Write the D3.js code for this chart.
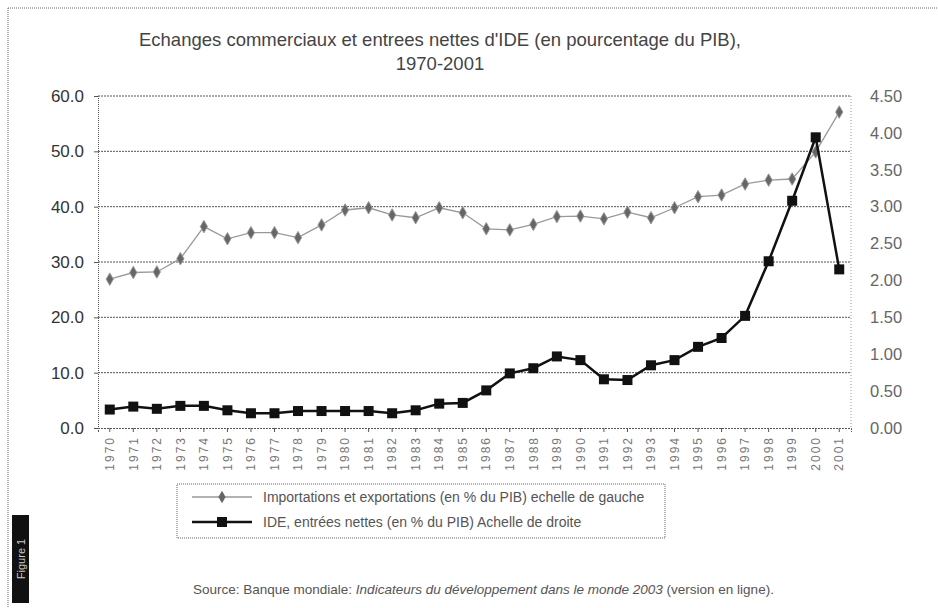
<!DOCTYPE html>
<html>
<head>
<meta charset="utf-8">
<script src="https://cdn.jsdelivr.net/npm/d3@7"></script>
<style>
  body { margin: 0; background: #fff; }
  svg { display: block; font-family: "Liberation Sans", Arial, sans-serif; }
</style>
</head>
<body>
<div class="chart-container"></div>
<script>
const width = 938;
const height = 608;

// data
const years = d3.range(1970, 2002).map(String);
const tradeValues = [26.9, 28.1, 28.2, 30.6, 36.4, 34.2, 35.3, 35.3, 34.4, 36.7, 39.4, 39.8,
    38.5, 38.0, 39.8, 38.9, 36.0, 35.8, 36.8, 38.2, 38.3, 37.8, 39.0, 38.0,
    39.8, 41.8, 42.1, 44.1, 44.8, 45.0, 49.9, 57.1];
const fdiValues = [0.25, 0.29, 0.26, 0.30, 0.30, 0.24, 0.20, 0.20, 0.23, 0.23, 0.23, 0.23,
    0.20, 0.24, 0.33, 0.34, 0.51, 0.74, 0.81, 0.97, 0.92, 0.66, 0.65, 0.85,
    0.92, 1.10, 1.22, 1.52, 2.26, 3.08, 3.94, 2.15];
const leftTicks = [0, 10, 20, 30, 40, 50, 60];
const rightTicks = [0, 0.5, 1, 1.5, 2, 2.5, 3, 3.5, 4, 4.5];

const titleLines = ["Echanges commerciaux et entrees nettes d'IDE (en pourcentage du PIB),", "1970-2001"];
const legendLabels = ["Importations et exportations (en % du PIB) echelle de gauche",
    "IDE, entrées nettes (en % du PIB) Achelle de droite"];

const margin = {top: 96, right: 87, bottom: 180, left: 98};

const svg = d3.select('.chart-container').append('svg')
    .attr('width', width)
    .attr('height', height);

// page frame (dotted, scanned look)
svg.append('line')
    .attr('x1', 8).attr('y1', 8).attr('x2', width).attr('y2', 8)
    .attr('stroke', '#666').attr('stroke-dasharray', '1,1');
svg.append('line')
    .attr('x1', 8).attr('y1', 8).attr('x2', 8).attr('y2', height)
    .attr('stroke', '#666').attr('stroke-dasharray', '1,1');

svg.append('text')
    .attr('text-anchor', 'middle')
    .attr('font-size', '18.5px')
    .attr('fill', '#444')
    .selectAll('tspan')
    .data(titleLines)
    .join('tspan')
    .attr('x', 440)
    .attr('y', (d, i) => 46 + i * 24)
    .text(d => d);

const x = d3.scaleBand()
    .domain(years)
    .range([margin.left, width - margin.right]);

const yLeft = d3.scaleLinear()
    .domain([0, 60])
    .range([height - margin.bottom, margin.top]);

const yRight = d3.scaleLinear()
    .domain([0, 4.5])
    .range([height - margin.bottom, margin.top]);

const plotLeft = margin.left;
const plotRight = width - margin.right;
const plotBottom = height - margin.bottom;

// gridlines
svg.append('g')
    .selectAll('line')
    .data(leftTicks.slice(1))
    .join('line')
    .attr('x1', plotLeft)
    .attr('x2', plotRight)
    .attr('y1', d => yLeft(d))
    .attr('y2', d => yLeft(d))
    .attr('stroke', '#555')
    .attr('stroke-width', 1)
    .attr('stroke-dasharray', '2,1');

// right edge of plot
svg.append('line')
    .attr('x1', plotRight).attr('x2', plotRight)
    .attr('y1', margin.top).attr('y2', plotBottom)
    .attr('stroke', '#999').attr('stroke-dasharray', '1,2');

// left axis
const leftAxis = svg.append('g')
    .attr('transform', `translate(${plotLeft},0)`)
    .call(d3.axisLeft(yLeft).tickValues(leftTicks).tickSize(4).tickPadding(10)
        .tickFormat(d => d.toFixed(1)));
leftAxis.select('.domain').attr('stroke', '#555').attr('stroke-dasharray', '1,1');
leftAxis.selectAll('.tick line').attr('stroke', '#555');
leftAxis.selectAll('text')
    .attr('font-size', '17px')
    .attr('font-family', '"Liberation Sans", Arial, sans-serif')
    .attr('fill', '#333');

// right axis (labels only)
const rightAxis = svg.append('g')
    .attr('transform', `translate(${plotRight},0)`)
    .call(d3.axisRight(yRight).tickValues(rightTicks).tickSize(0).tickPadding(19)
        .tickFormat(d => d.toFixed(2)));
rightAxis.select('.domain').remove();
rightAxis.selectAll('text')
    .attr('font-size', '16.5px')
    .attr('font-family', '"Liberation Sans", Arial, sans-serif')
    .attr('fill', '#666');

// bottom axis
const bottomAxis = svg.append('g')
    .attr('transform', `translate(0,${plotBottom})`)
    .call(d3.axisBottom(x).tickSize(4).tickPadding(6));
bottomAxis.select('.domain').attr('stroke', '#555').attr('stroke-dasharray', '2,1');
bottomAxis.selectAll('.tick line').attr('stroke', '#555');
bottomAxis.selectAll('text')
    .attr('font-size', '12px')
    .attr('font-family', '"Liberation Sans", Arial, sans-serif')
    .attr('letter-spacing', '2px')
    .attr('fill', '#777')
    .attr('text-anchor', 'end')
    .attr('dx', '-8px')
    .attr('transform', 'rotate(-90)')
    .attr('x', 0)
    .attr('y', 0)
    .attr('dy', '0.35em');

const cx = (d, i) => x(years[i]) + x.bandwidth() / 2;

// trade line (left scale)
const tradeLine = d3.line()
    .x((d, i) => cx(d, i))
    .y(d => yLeft(d));

svg.append('path')
    .datum(tradeValues)
    .attr('d', tradeLine)
    .attr('fill', 'none')
    .attr('stroke', '#999')
    .attr('stroke-width', 1.3);

svg.append('g')
    .selectAll('path')
    .data(tradeValues)
    .join('path')
    .attr('d', d3.symbol(d3.symbolDiamond, 45))
    .attr('transform', (d, i) => `translate(${cx(d, i)},${yLeft(d)})`)
    .attr('fill', '#666')
    .attr('stroke', '#999');

// FDI line (right scale)
const fdiLine = d3.line()
    .x((d, i) => cx(d, i))
    .y(d => yRight(d));

svg.append('path')
    .datum(fdiValues)
    .attr('d', fdiLine)
    .attr('fill', 'none')
    .attr('stroke', '#111')
    .attr('stroke-width', 2.5);

svg.append('g')
    .selectAll('rect')
    .data(fdiValues)
    .join('rect')
    .attr('x', (d, i) => cx(d, i) - 5)
    .attr('y', d => yRight(d) - 5)
    .attr('width', 10)
    .attr('height', 10)
    .attr('fill', '#111');

// legend
const legend = svg.append('g');
legend.append('rect')
    .attr('x', 177).attr('y', 484)
    .attr('width', 488).attr('height', 54)
    .attr('fill', 'none')
    .attr('stroke', '#666')
    .attr('stroke-dasharray', '1,1');

const legendRows = legend.selectAll('g')
    .data(legendLabels)
    .join('g')
    .attr('transform', (d, i) => `translate(0,${497 + i * 25})`);

legendRows.append('line')
    .attr('x1', 192).attr('x2', 252)
    .attr('stroke', (d, i) => i === 0 ? '#999' : '#111')
    .attr('stroke-width', (d, i) => i === 0 ? 1.3 : 2.5);

legendRows.filter((d, i) => i === 0).append('path')
    .attr('d', d3.symbol(d3.symbolDiamond, 45))
    .attr('transform', 'translate(222,0)')
    .attr('fill', '#666');

legendRows.filter((d, i) => i === 1).append('rect')
    .attr('x', 217).attr('y', -5)
    .attr('width', 10).attr('height', 10)
    .attr('fill', '#111');

legendRows.append('text')
    .attr('x', 263)
    .attr('dy', '0.35em')
    .attr('font-size', '14px')
    .attr('fill', '#555')
    .text(d => d);

// source
const source = svg.append('text')
    .attr('x', 193)
    .attr('y', 594)
    .attr('font-size', '13.5px')
    .attr('fill', '#555');
source.append('tspan').text('Source: Banque mondiale: ');
source.append('tspan').attr('font-style', 'italic').text('Indicateurs du développement dans le monde 2003');
source.append('tspan').text(' (version en ligne).');

// "Figure 1" tab
svg.append('rect')
    .attr('x', 12).attr('y', 515)
    .attr('width', 17).attr('height', 88)
    .attr('fill', '#111');
svg.append('text')
    .attr('transform', 'translate(25,559) rotate(-90)')
    .attr('text-anchor', 'middle')
    .attr('font-size', '11px')
    .attr('fill', '#ccc')
    .text('Figure 1');
</script>
</body>
</html>
